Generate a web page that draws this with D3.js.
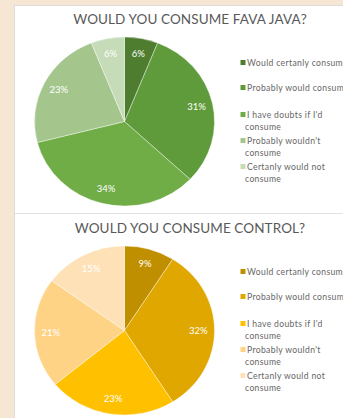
<!DOCTYPE html>
<html>
<head>
<meta charset="utf-8">
<script src="https://cdn.jsdelivr.net/npm/d3@7"></script>
<style>
  html, body { margin: 0; padding: 0; background: #f6e6d4; overflow: hidden; }
  #chart { width: 343px; height: 418px; }
</style>
</head>
<body>
<div id="chart"></div>
<script>
const categories = [
    "Would certanly consume",
    "Probably would consum",
    "I have doubts if I'd|consume",
    "Probably wouldn't|consume",
    "Certanly would not|consume"
];
const favaValues = [6, 31, 34, 23, 6];
const controlValues = [9, 32, 23, 21, 15];
const favaColors = ["#4e7d2f", "#5f9b3a", "#70ad47", "#a4c68d", "#c6dbb8"];
const controlColors = ["#bf8f00", "#dfa700", "#ffc000", "#ffd386", "#fee1b6"];

const charts = [
    { title: "WOULD YOU CONSUME FAVA JAVA?", values: favaValues, colors: favaColors, top: 0 },
    { title: "WOULD YOU CONSUME CONTROL?", values: controlValues, colors: controlColors, top: 209 }
];

const W = 343, H = 418;
const rx = 90, ry = 84.5;

const svg = d3.select("#chart").append("svg")
    .attr("width", W)
    .attr("height", H);

// white panel with grey border on the left/top
svg.append("rect")
    .attr("x", 14.5).attr("y", 5.5)
    .attr("width", W).attr("height", H)
    .attr("fill", "#fff")
    .attr("stroke", "#dcdcdc");

svg.append("line")
    .attr("x1", 15).attr("x2", W)
    .attr("y1", 213.5).attr("y2", 213.5)
    .attr("stroke", "#e2e2e2");

charts.forEach(c => {
    const g = svg.append("g").attr("transform", `translate(0,${c.top})`);

    g.append("text")
        .attr("x", 190).attr("y", 23.5)
        .attr("text-anchor", "middle")
        .style("font-family", "Lato, 'Noto Sans', sans-serif")
        .style("font-size", "13.5px")
        .style("letter-spacing", "0.1px")
        .style("fill", "#595959")
        .text(c.title);

    const pie = d3.pie().sort(null).value(d => d);
    const arcs = pie(c.values);
    const arc = d3.arc().innerRadius(0).outerRadius(rx);
    const labelArc = d3.arc().innerRadius(rx * 0.82).outerRadius(rx * 0.82);

    const cx = 124.5, cy = 121.5;

    g.append("g")
        .attr("transform", `translate(${cx},${cy}) scale(1,${ry / rx})`)
        .selectAll("path")
        .data(arcs)
        .enter().append("path")
        .attr("d", arc)
        .attr("fill", (d, i) => c.colors[i])
        .attr("stroke", "#fff")
        .attr("stroke-width", 0.4);

    g.append("g")
        .attr("transform", `translate(${cx},${cy})`)
        .selectAll("text")
        .data(arcs)
        .enter().append("text")
        .attr("x", d => labelArc.centroid(d)[0])
        .attr("y", d => labelArc.centroid(d)[1] * ry / rx)
        .attr("dy", "0.35em")
        .attr("text-anchor", "middle")
        .style("font-family", "Lato, 'Noto Sans', sans-serif")
        .style("font-size", "9.5px")
        .style("fill", "#fff")
        .text(d => d.data + "%");

    // legend
    const legendY = [63, 88, 115, 141, 167];
    const legend = g.append("g");
    categories.forEach((cat, i) => {
        const lines = cat.split("|");
        legend.append("rect")
            .attr("x", 240.5).attr("y", legendY[i] - 3)
            .attr("width", 5).attr("height", 5)
            .attr("fill", c.colors[i]);
        lines.forEach((ln, j) => {
            legend.append("text")
                .attr("x", j === 0 ? 247 : 245)
                .attr("y", legendY[i] + j * 11.5)
                .attr("dy", "0.35em")
                .style("font-family", "Lato, 'Noto Sans', sans-serif")
                .style("font-size", "8.6px")
                .style("letter-spacing", "0.35px")
                .style("fill", "#666")
                .text(ln);
        });
    });
});
</script>
</body>
</html>
